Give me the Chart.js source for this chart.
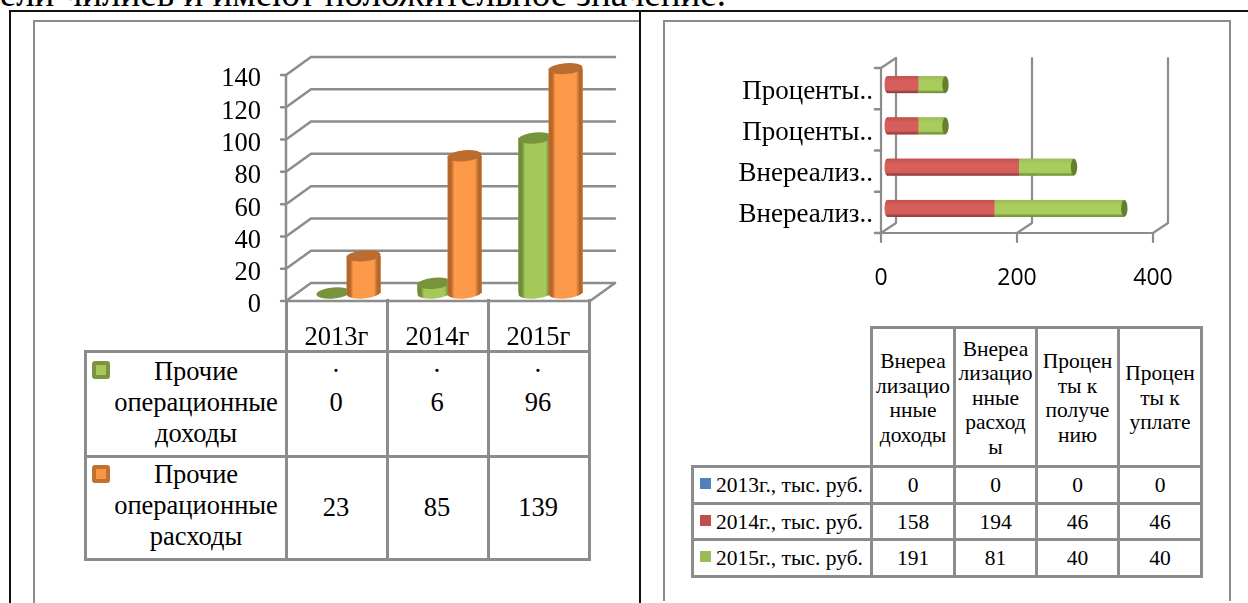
<!DOCTYPE html>
<html lang="ru"><head><meta charset="utf-8">
<script src="https://cdn.jsdelivr.net/npm/chart.js@4"></script>
<style>
html,body{margin:0;padding:0;background:#fff;width:1248px;height:603px;overflow:hidden}
body{position:relative;font-family:"Liberation Serif",serif;color:#000}
.abs{position:absolute;box-sizing:border-box}
.cell{position:absolute;box-sizing:border-box;border:3px solid #8c8c8c;display:flex;align-items:center;justify-content:center;text-align:center}
canvas{position:absolute;left:0;top:0}
</style></head><body>
<div class="abs" id="topText" style="right:522px;top:-26px;font-size:37px;line-height:40px;white-space:nowrap">ели чилиев и имеют положительное значение.</div>
<div class="abs" style="left:9px;top:10px;width:1239px;height:2px;background:#111"></div>
<div class="abs" style="left:9px;top:10px;width:2px;height:593px;background:#111"></div>
<div class="abs" style="left:639px;top:10px;width:2px;height:593px;background:#111"></div>
<div class="abs" style="left:33px;top:20px;width:606px;height:2px;background:#8c8c8c"></div>
<div class="abs" style="left:33px;top:20px;width:2px;height:583px;background:#8c8c8c"></div>
<div class="abs" style="left:663px;top:20px;width:568px;height:2px;background:#8c8c8c"></div>
<div class="abs" style="left:663px;top:20px;width:2px;height:581px;background:#8c8c8c"></div>
<div class="abs" style="left:1229px;top:20px;width:2px;height:581px;background:#8c8c8c"></div>
<div id="tables"></div>
<canvas id="c1" width="1248" height="603"></canvas>
<canvas id="c2" width="1248" height="603"></canvas>
<script>
// --- left chart data
const years = ['2013г','2014г','2015г'];
const opIncomeName = 'Прочие операционные доходы';
const opExpenseName = 'Прочие операционные расходы';
const opIncome = [0,6,96];
const opExpense = [23,85,139];
const opTicks = [0,20,40,60,80,100,120,140];
// --- right chart data
const categories = ['Внереализационные доходы','Внереализационные расходы','Проценты к получению','Проценты к уплате'];
const categoryAxisLabels = ['Внереализ..','Внереализ..','Проценты..','Проценты..'];
const categoryHeaders = [['Внереа','лизацио','нные','доходы'],['Внереа','лизацио','нные','расход','ы'],['Процен','ты к','получе','нию'],['Процен','ты к','уплате']];
const seriesNames = ['2013г., тыс. руб.','2014г., тыс. руб.','2015г., тыс. руб.'];
const values2013 = [0,0,0,0];
const values2014 = [158,194,46,46];
const values2015 = [191,81,40,40];

const SERIF = '"Liberation Serif", serif';
const GRAY = '#8c8c8c';

// --- HTML tables
const host = document.getElementById('tables');
function cell(x0,y0,x1,y1,html,font,lh,extra){
  const d=document.createElement('div');d.className='cell';
  d.style.cssText=`left:${x0-1}px;top:${y0-1}px;width:${x1-x0+3}px;height:${y1-y0+3}px;font-size:${font}px;line-height:${lh}px;${extra||''}`;
  d.innerHTML='<div>'+html+'</div>';host.appendChild(d);return d;
}
function swatch(x,y,s,bg,bd,r){
  const d=document.createElement('div');d.className='abs';
  d.style.cssText=`left:${x}px;top:${y}px;width:${s}px;height:${s}px;background:${bg};border:${bd};border-radius:${r}px`;
  host.appendChild(d);
}
const L=[286,387,488,589];
years.forEach((y,i)=>cell(L[i],300,L[i+1],351,'',26.5,31,'border-top:none'));
function split(n){return n.split(' ').join('<br>');}
cell(85,351,286,456,split(opIncomeName),26.5,31,'padding-left:20px;padding-bottom:4px');
cell(85,456,286,559,split(opExpenseName),26.5,31,'padding-left:20px;padding-bottom:5px');
opIncome.forEach((v,i)=>cell(L[i],351,L[i+1],456,'·<br>'+v+'<br>&nbsp;',26.5,31,'padding-bottom:4px;padding-right:2px'));
opExpense.forEach((v,i)=>cell(L[i],456,L[i+1],559,v,26.5,31,'padding-bottom:1px;padding-right:2px'));
swatch(92,361,18,'#a5c85a','4px solid #7a9440',3);
swatch(92,465,18,'#f79646','4px solid #c0702f',3);

const R=[871,954,1036,1118,1201];
categoryHeaders.forEach((h,i)=>cell(R[i],327,R[i+1],466,h.join('<br>'),21.5,24.5,'padding-top:2px'));
const RY=[466,503,539,576];
const rows=[values2013,values2014,values2015];
const sw=['#4f81bd','#c0504d','#9bbb59'];
rows.forEach((vals,r)=>{
  cell(692,RY[r],871,RY[r+1],seriesNames[r],21.5,22,'justify-content:flex-end;padding-right:7px;white-space:nowrap');
  swatch(700,RY[r]+12,11,sw[r],'none',0);
  vals.forEach((v,i)=>cell(R[i],RY[r],R[i+1],RY[r+1],v,21.5,24));
});

function line(ctx,pts,w){ctx.beginPath();pts.forEach((p,i)=>i?ctx.lineTo(p[0],p[1]):ctx.moveTo(p[0],p[1]));ctx.lineWidth=w;ctx.strokeStyle=GRAY;ctx.lineCap='round';ctx.lineJoin='round';ctx.stroke();}

// --- left chart: 3D cylinders drawn from the library's bar elements
const DEPTH1={x:25,y:-18}, SHIFT1={x:12,y:-8};
const PAL1={
 green:{edge:'#6f8b37',mid:'#a5c85a',cap:'#77933c'},
 orange:{edge:'#b5662b',mid:'#fd9a49',cap:'#bb6c2f'}
};
const wall1={id:'wall1',
 beforeDatasetsDraw(ch){
  const c=ch.ctx,ys=ch.scales.y,xs=ch.chartArea;
  c.save();
  ys.ticks.forEach(t=>{
    const y=ys.getPixelForValue(t.value);
    line(c,[[xs.left-5,y],[xs.left,y],[xs.left+DEPTH1.x,y+DEPTH1.y],[xs.right+DEPTH1.x+1,y+DEPTH1.y]],2.5);
  });
  line(c,[[xs.left,xs.top],[xs.left,xs.bottom],[xs.right+1,xs.bottom],[xs.right+DEPTH1.x+1,xs.bottom+DEPTH1.y]],2.5);
  c.restore();
 },
 // datasets are painted left to right so the orange cylinder overlaps the green one
 beforeDatasetDraw(){return false;},
 afterDatasetsDraw(ch){
  const c=ch.ctx;
  ch.data.datasets.forEach((ds,i)=>{
   const meta=ch.getDatasetMeta(i),p=PAL1[ds.pal];
   c.save();c.translate(SHIFT1.x,SHIFT1.y);
   meta.controller.draw();
   meta.data.forEach(el=>{
    const w=el.width,l=el.x-w/2,ry=5.5,tilt=-0.09;
    const g=c.createLinearGradient(l,0,l+w,0);
    g.addColorStop(0,p.edge);g.addColorStop(.1,p.edge);g.addColorStop(.2,p.mid);g.addColorStop(.8,p.mid);g.addColorStop(.91,p.edge);g.addColorStop(1,p.edge);
    c.fillStyle=g;
    if(el.base-el.y>0.5){
      c.beginPath();c.ellipse(el.x,el.base,w/2,ry,tilt,0,Math.PI*2);c.fill();
      c.fillRect(l,el.y,w,el.base-el.y);
    }
    c.fillStyle=p.cap;
    c.beginPath();c.ellipse(el.x,el.y,w/2,ry,tilt,0,Math.PI*2);c.fill();
   });
   c.restore();
  });
 }
};
new Chart(document.getElementById('c1'),{
 type:'bar',
 data:{labels:years,datasets:[
  {label:opIncomeName,data:opIncome,backgroundColor:'#a5c85a',pal:'green',clip:false,categoryPercentage:.6,barPercentage:1.12},
  {label:opExpenseName,data:opExpense,backgroundColor:'#fd9a49',pal:'orange',clip:false,categoryPercentage:.6,barPercentage:1.12}
 ]},
 plugins:[wall1],
 options:{responsive:false,animation:false,
  layout:{padding:{left:0,top:75,right:1248-589,bottom:0}},
  plugins:{legend:{display:false},tooltip:{enabled:false}},
  scales:{
   y:{min:0,max:140,grid:{display:false},border:{display:false},
      afterBuildTicks(s){s.ticks=opTicks.map(v=>({value:v}));},
      afterFit(s){s.width=286;},
      ticks:{color:'#000',padding:17,autoSkip:false,labelOffset:4.5,font:{family:SERIF,size:26.5}}},
   x:{grid:{display:false},border:{display:false},
      afterFit(s){s.height=302;},
      ticks:{color:'#000',padding:13,maxRotation:0,font:{family:SERIF,size:26.5}}}
  }
 }
});

// --- right chart
const DEPTH2={x:15,y:-10}, SHIFT2={x:6,y:-4};
const PAL2={
 blue:{top:'#4f81bd',mid:'#4f81bd',bot:'#35587f'},
 red:{top:'#c0504d',mid:'#d75f5b',bot:'#7f3432'},
 green:{top:'#9bbb59',mid:'#a9cd5d',bot:'#64802f'}
};
const wall2={id:'wall2',
 beforeDatasetsDraw(ch){
  const c=ch.ctx,xs=ch.scales.x,ys=ch.scales.y,A=ch.chartArea;
  c.save();
  const step=(A.bottom-A.top)/ys.ticks.length;
  for(let i=0;i<=ys.ticks.length;i++){const y=A.bottom-i*step;line(c,[[A.left-6,y],[A.left,y]],2.5);}
  line(c,[[A.left,A.top],[A.left+DEPTH2.x,A.top+DEPTH2.y]],2.2);
  xs.ticks.forEach(t=>{
    const x=xs.getPixelForValue(t.value);
    line(c,[[x,A.bottom+9],[x,A.bottom],[x+DEPTH2.x,A.bottom+DEPTH2.y],[x+DEPTH2.x,A.top+DEPTH2.y]],2.2);
  });
  line(c,[[A.left,A.top],[A.left,A.bottom],[A.right,A.bottom]],2.2);
  c.restore();
 },
 beforeDatasetDraw(ch){const c=ch.ctx;c.save();c.translate(SHIFT2.x,SHIFT2.y);},
 afterDatasetDraw(ch,a){
  const c=ch.ctx,ds=ch.data.datasets[a.index],p=PAL2[ds.pal];
  a.meta.data.forEach(el=>{
    const h=el.height,t=el.y-h/2;
    if(el.x-el.base<0.5)return;
    const g=c.createLinearGradient(0,t,0,t+h);
    g.addColorStop(0,p.top);g.addColorStop(.3,p.mid);g.addColorStop(.8,p.mid);g.addColorStop(1,p.bot);
    c.fillStyle=g;c.fillRect(el.base,t,el.x-el.base,h);
    if(ds.pal==='red'){c.beginPath();c.ellipse(el.base,el.y,2.5,h/2,0,0,Math.PI*2);c.fill();}
    if(ds.pal==='green'){c.fillStyle=p.bot;c.beginPath();c.ellipse(el.x,el.y,3.2,h/2,0,0,Math.PI*2);c.fill();}
  });
  c.restore();
 }
};
new Chart(document.getElementById('c2'),{
 type:'bar',
 data:{labels:categoryAxisLabels,datasets:[
  {label:seriesNames[0],data:values2013,backgroundColor:'#4f81bd',pal:'blue',clip:false,categoryPercentage:1,barPercentage:.41},
  {label:seriesNames[1],data:values2014,backgroundColor:'#d75f5b',pal:'red',clip:false,categoryPercentage:1,barPercentage:.41},
  {label:seriesNames[2],data:values2015,backgroundColor:'#a9cd5d',pal:'green',clip:false,categoryPercentage:1,barPercentage:.41}
 ]},
 plugins:[wall2],
 options:{responsive:false,animation:false,indexAxis:'y',
  layout:{padding:{left:0,top:68,right:1248-1153,bottom:0}},
  plugins:{legend:{display:false},tooltip:{enabled:false}},
  scales:{
   x:{stacked:true,min:0,max:400,grid:{display:false},border:{display:false},
      afterFit(s){s.height=603-233;},
      ticks:{stepSize:200,color:'#000',padding:24,maxRotation:0,font:{family:'"Open Sans", sans-serif',size:23}}},
   y:{stacked:true,reverse:true,grid:{display:false},border:{display:false},
      afterFit(s){s.width=881;},
      ticks:{color:'#000',padding:0,autoSkip:false,labelOffset:3,font:{family:SERIF,size:27}}}
  }
 }
});
</script>
</body></html>
